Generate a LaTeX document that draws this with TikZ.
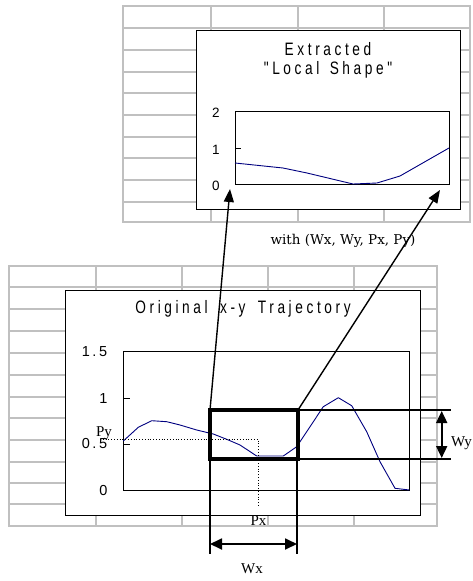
\documentclass[tikz,border=0pt]{standalone}
\usepackage{fontspec}
\usetikzlibrary{arrows.meta}
\newfontfamily\titlefont[FakeStretch=0.76,LetterSpace=20]{Liberation Sans}
\newfontfamily\axisfont[LetterSpace=18]{Liberation Sans}
\newfontfamily\labfont{Liberation Serif}
\newfontfamily\withfont{DejaVu Serif}
\definecolor{gridgray}{RGB}{192,192,192}
\definecolor{navy}{RGB}{0,0,128}
\begin{document}
\begin{tikzpicture}[x=1pt,y=-1pt,
  gridline/.style={draw=gridgray,line width=1.6pt},
  chartbox/.style={draw=black,fill=white,line width=0.9pt},
  plotframe/.style={draw=black,line width=0.9pt},
  curve/.style={draw=navy,line width=0.9pt,line join=round},
  dotline/.style={draw=black,line width=0.8pt,dotted},
  selbox/.style={draw=black,line width=4pt},
  extline/.style={draw=black,line width=1.8pt},
  conn/.style={draw=black,line width=1.4pt,-{Triangle[length=13pt,width=10pt]}},
  dim/.style={draw=black,line width=1.8pt,{Triangle[length=12pt,width=11pt]}-{Triangle[length=12pt,width=11pt]}},
  titletext/.style={font=\titlefont\fontsize{18}{21}\selectfont,inner sep=0pt},
  axistext/.style={font=\axisfont\fontsize{14.5}{17}\selectfont,inner sep=0pt},
  axistexttop/.style={font=\axisfont\fontsize{13.5}{16}\selectfont,inner sep=0pt},
  serif/.style={font=\labfont\fontsize{15}{18}\selectfont,inner sep=0pt},
  withtext/.style={font=\withfont\fontsize{13.5}{16}\selectfont,inner sep=0pt}]
\useasboundingbox (0,0) rectangle (473,581);
\fill[white] (0,0) rectangle (473,581);

% ---------- top spreadsheet grid ----------
\draw[gridline] (123,6) rectangle (470,222);
\foreach \gx in {211,298,384} \draw[gridline] (\gx,6) -- (\gx,222);
\foreach \gy in {28,50,72,93,115,137,158,180,202} \draw[gridline] (123,\gy) -- (470,\gy);

% ---------- top chart ----------
\draw[chartbox] (196,30) rectangle (460,209);
\node[titletext] (ttl1) at (328,49) {Extracted};
\node[titletext] (ttl2) at (328,70) {"Local\hspace{3pt} Shape"};
\draw[plotframe] (235,111) rectangle (449,184);
\draw[plotframe] (235,148) -- (241,148);
\node[axistexttop] (t2) at (216,113) {2};
\node[axistexttop] (t1) at (216,150) {1};
\node[axistexttop] (t0) at (216,186) {0};
\draw[curve] (235,163) -- (283,168) -- (307,173) -- (353,184) -- (377,183) -- (400,176) -- (449,148);
\coordinate (tipL) at (230,189);
\coordinate (tipR) at (440,190);

\node[withtext] (withlbl) at (343,241) {with (Wx, Wy, Px, Py)};

% ---------- bottom spreadsheet grid ----------
\draw[gridline] (9,266) rectangle (437,526);
\foreach \gx in {96,182,268,354} \draw[gridline] (\gx,266) -- (\gx,526);
\foreach \gy in {287,309,331,353,375,397,418,440,462,483,504} \draw[gridline] (9,\gy) -- (437,\gy);

% ---------- bottom chart ----------
\draw[chartbox] (65,290) rectangle (420,515);
\node[titletext] (ttlB) at (243,309) {Original\hspace{5pt} x-y\hspace{5pt} Trajectory};
\draw[plotframe] (123,351) rectangle (409,490);
\draw[plotframe] (123,398) -- (130,398);
\draw[plotframe] (123,444) -- (130,444);
\node[axistext] (b15) at (94.5,352) {1.5};
\node[axistext] (b1) at (103.5,398.5) {1};
\node[axistext] (b05) at (94.5,444) {0.5};
\node[axistext] (b0) at (103.5,490.5) {0};
\draw[curve] (123.3,441) -- (138.3,427.3) -- (151.7,420.7) -- (166.7,421.7) -- (180,425) -- (196.7,430) -- (213.3,434) -- (226.7,439.3) -- (240,445) -- (256.7,456) -- (283.3,456) -- (296.7,446.7) -- (323.3,406.7) -- (338.3,397.7) -- (351.7,405.7) -- (366.7,431.7) -- (380,461.7) -- (395,488.3) -- (409.3,490);

% dotted position lines
\coordinate (pyStart) at (100,439);
\coordinate (pCorner) at (258,439);
\coordinate (pxEnd) at (258,506);
\draw[dotline] (pyStart) -- (pCorner) -- (pxEnd);
\node[serif] (py) at (104,433) {Py};
\node[serif] (px) at (258.5,521) {Px};

% selection window
\coordinate (selTL) at (210,410);
\coordinate (selTR) at (298,410);
\coordinate (selBL) at (210,459);
\coordinate (selBR) at (298,459);
\draw[extline] (selTR) -- (451,410);
\draw[extline] (selBR) -- (451,459);
\draw[extline] (selBL) -- (210,554);
\draw[extline] (297,459) -- (297,554);
\draw[selbox] (selTL) rectangle (selBR);

% dimension arrows
\coordinate (wxL) at (210,544);
\coordinate (wxR) at (297,544);
\draw[dim] (wxL) -- (wxR);
\coordinate (wyT) at (441.7,411);
\coordinate (wyB) at (441.7,458);
\draw[dim] (wyT) -- (wyB);
\node[serif,anchor=west] (wy) at (451,443) {Wy};
\node[serif] (wx) at (252,569) {Wx};

% connectors
\draw[conn] (selTL) -- (tipL);
\draw[conn] (selTR) -- (tipR);
\end{tikzpicture}
\end{document}
